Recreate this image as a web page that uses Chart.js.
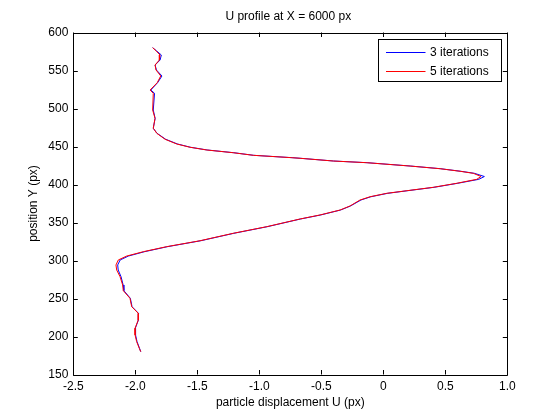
<!DOCTYPE html>
<html>
<head>
<meta charset="utf-8">
<title>U profile at X = 6000 px</title>
<script src="https://cdn.jsdelivr.net/npm/chart.js@4.4.1/dist/chart.umd.min.js"></script>
<style>
  html, body { margin: 0; padding: 0; background: #fff; }
  #wrap { width: 560px; height: 420px; }
</style>
</head>
<body>
<div id="wrap"><canvas id="profileChart" width="560" height="420"></canvas></div>
<script>
// position Y (px) along the profile, top to bottom
const posY = [
  580, 576, 570.4, 563.8, 557.2, 550.7, 542.8, 534, 524.3, 520,
  498, 487, 474, 467.4, 459.5, 453.3, 449, 445.4, 441.8, 438.4,
  435.3, 434.5, 430.9, 428.7, 424.3, 420.8, 417.4, 414.7, 410.5, 406.8,
  401.6, 396.3, 391.8, 388.4, 383.9, 379.6, 371.7, 366.4, 359.9, 354.6,
  344.5, 335.8, 326, 318.2, 311.6, 305.9, 300.7, 294.1, 287.5, 278.7,
  267.8, 260.3, 250.3, 239.2, 230.5, 221.7, 210.8, 202, 193.2, 184.5,
  180
];

// particle displacement U (px), 3 iterations
const u3iter = [
  -1.86, -1.83, -1.79, -1.80, -1.84, -1.83, -1.785, -1.82, -1.875, -1.845,
  -1.855, -1.84, -1.855, -1.825, -1.755, -1.66, -1.555, -1.42, -1.205, -1.045,
  -0.735, -0.67, -0.40, -0.13, 0.22, 0.46, 0.625, 0.735, 0.815, 0.77,
  0.60, 0.41, 0.195, 0.035, -0.10, -0.18, -0.265, -0.345, -0.505, -0.668,
  -0.935, -1.205, -1.472, -1.74, -1.925, -2.055, -2.122, -2.142, -2.138, -2.115,
  -2.098, -2.092, -2.04, -2.026, -1.974, -1.975, -2.0, -1.998, -1.986, -1.966,
  -1.956
];

// particle displacement U (px), 5 iterations
const u5iter = [
  -1.86, -1.833, -1.801, -1.806, -1.841, -1.833, -1.795, -1.823, -1.881, -1.855,
  -1.86, -1.841, -1.855, -1.827, -1.76, -1.666, -1.559, -1.424, -1.21, -1.048,
  -0.739, -0.672, -0.403, -0.134, 0.215, 0.457, 0.619, 0.726, 0.788, 0.753,
  0.592, 0.403, 0.189, 0.027, -0.107, -0.188, -0.269, -0.349, -0.511, -0.672,
  -0.94, -1.21, -1.478, -1.747, -1.935, -2.069, -2.137, -2.156, -2.15, -2.123,
  -2.102, -2.097, -2.043, -2.029, -1.976, -1.976, -2.002, -2.002, -1.989, -1.968,
  -1.956
];

const seriesLabels = ['3 iterations', '5 iterations'];
const xTicks = [-2.5, -2, -1.5, -1, -0.5, 0, 0.5, 1];
const yTicks = [150, 200, 250, 300, 350, 400, 450, 500, 550, 600];
const chartTitle = 'U profile at X = 6000 px';

const FONT = '"Liberation Sans", Arial, Helvetica, sans-serif';

const toPoints = (xs) => xs.map((u, i) => ({ x: u, y: posY[i] }));

// MATLAB-style box with inward ticks on all four sides
const boxTicks = {
  id: 'boxTicks',
  afterDraw(chart) {
    const { ctx, chartArea: a, scales } = chart;
    const len = 4.5;
    ctx.save();
    ctx.strokeStyle = '#000';
    ctx.lineWidth = 1;
    ctx.beginPath();
    ctx.rect(Math.round(a.left) + 0.5, Math.round(a.top) + 0.5,
             Math.round(a.right) - Math.round(a.left), Math.round(a.bottom) - Math.round(a.top));
    xTicks.forEach(v => {
      const px = Math.round(scales.x.getPixelForValue(v)) + 0.5;
      ctx.moveTo(px, a.bottom); ctx.lineTo(px, a.bottom - len);
      ctx.moveTo(px, a.top); ctx.lineTo(px, a.top + len);
    });
    yTicks.forEach(v => {
      const py = Math.round(scales.y.getPixelForValue(v)) + 0.5;
      ctx.moveTo(a.left, py); ctx.lineTo(a.left + len, py);
      ctx.moveTo(a.right, py); ctx.lineTo(a.right - len, py);
    });
    ctx.stroke();

    // title centred over the axes box, not the whole canvas
    ctx.fillStyle = '#000';
    ctx.font = '12px ' + FONT;
    ctx.textAlign = 'center';
    ctx.textBaseline = 'middle';
    ctx.fillText(chartTitle, (a.left + a.right) / 2 - 2, 16.5);
    ctx.restore();
  }
};

// legend box inside the top-right corner, like MATLAB's
const boxLegend = {
  id: 'boxLegend',
  afterDraw(chart) {
    const { ctx, chartArea: a } = chart;
    const w = 123, h = 42;
    const x0 = Math.round(a.right - 6 - w) + 0.5;
    const y0 = Math.round(a.top + 6.5) + 0.5;
    ctx.save();
    ctx.fillStyle = '#fff';
    ctx.fillRect(x0, y0, w, h);
    ctx.strokeStyle = '#000';
    ctx.lineWidth = 1;
    ctx.strokeRect(x0, y0, w, h);
    ctx.font = '12px ' + FONT;
    ctx.textBaseline = 'middle';
    ctx.textAlign = 'left';
    chart.data.datasets.forEach((ds, i) => {
      const ly = Math.round(y0 + 12 + i * 19.7) + 0.5;
      ctx.strokeStyle = ds.borderColor;
      ctx.beginPath();
      ctx.moveTo(x0 + 7.5, ly);
      ctx.lineTo(x0 + 47, ly);
      ctx.stroke();
      ctx.fillStyle = '#000';
      ctx.fillText(ds.label, x0 + 51.5, ly);
    });
    ctx.restore();
  }
};

new Chart(document.getElementById('profileChart'), {
  type: 'scatter',
  data: {
    datasets: [
      {
        label: seriesLabels[0],
        data: toPoints(u3iter),
        showLine: true,
        borderColor: '#0000ff',
        backgroundColor: '#0000ff',
        borderWidth: 1,
        pointRadius: 0,
        tension: 0,
        order: 2
      },
      {
        label: seriesLabels[1],
        data: toPoints(u5iter),
        showLine: true,
        borderColor: '#ff0000',
        backgroundColor: '#ff0000',
        borderWidth: 1,
        pointRadius: 0,
        tension: 0,
        order: 1
      }
    ]
  },
  options: {
    responsive: false,
    animation: false,
    devicePixelRatio: 1,
    layout: { padding: { left: 0, right: 52.7, top: 32.5, bottom: 0 } },
    plugins: {
      legend: { display: false },
      tooltip: { enabled: false },
      title: { display: false }
    },
    scales: {
      x: {
        type: 'linear',
        min: -2.5,
        max: 1,
        afterBuildTicks: (s) => { s.ticks = xTicks.map(v => ({ value: v })); },
        afterFit: (s) => { s.height = 45.5; },
        grid: { display: false, drawTicks: false },
        border: { display: false },
        ticks: { color: '#000', padding: 4.5, maxRotation: 0, font: { family: FONT, size: 12 } },
        title: {
          display: true,
          text: 'particle displacement U (px)',
          color: '#000',
          font: { family: FONT, size: 12 },
          padding: { top: 0, bottom: 9.8 }
        }
      },
      y: {
        type: 'linear',
        min: 150,
        max: 600,
        afterBuildTicks: (s) => { s.ticks = yTicks.map(v => ({ value: v })); },
        afterFit: (s) => { s.width = 73.3; },
        grid: { display: false, drawTicks: false },
        border: { display: false },
        ticks: { color: '#000', padding: 5, font: { family: FONT, size: 12 } },
        title: {
          display: true,
          text: 'position Y (px)',
          color: '#000',
          font: { family: FONT, size: 12 },
          padding: { top: 26.8, bottom: 0 }
        }
      }
    }
  },
  plugins: [boxTicks, boxLegend]
});
</script>
</body>
</html>
